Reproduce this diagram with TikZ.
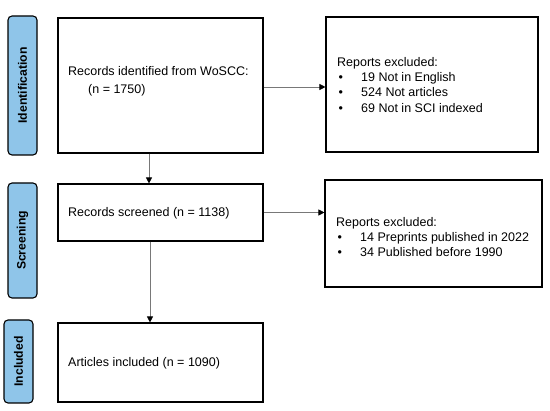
\documentclass[tikz,border=0pt]{standalone}
\usepackage{fontspec}
\setmainfont{Liberation Sans}
\usetikzlibrary{arrows.meta}
\definecolor{phaseblue}{RGB}{143,197,233}
\definecolor{linegray}{RGB}{120,120,120}
\tikzset{phase/.style={draw=black,line width=1.1pt,fill=phaseblue,rounded corners=4pt,minimum width=29pt,inner sep=0pt}}
\tikzset{stagebox/.style={draw=black,line width=1.1pt,fill=white,inner sep=0pt}}
\tikzset{txt/.style={inner sep=0pt,font=\fontsize{12.5}{15.3}\selectfont,align=left}}
\tikzset{flow/.style={draw=linegray,line width=0.8pt,-{Triangle[length=6pt,width=6pt,black]}}}
\newcommand{\bul}{\makebox[24pt][l]{\hspace{1.5pt}•}}

\begin{document}
\begin{tikzpicture}[x=1pt,y=-1pt]
      \useasboundingbox[fill=white] (0,0) rectangle (550,411);
      \pgfmathsetmacro{\boxw}{205}
      \pgfmathsetmacro{\boxx}{160.5}
      % phase labels
      \node[phase,minimum height=139pt] (ident) at (22.5,85.5) {\rotatebox{90}{\fontsize{12.2}{14}\selectfont\bfseries Identification}};
      \node[phase,minimum height=115pt] (screen) at (22.5,240.5) {\rotatebox{90}{\fontsize{12.2}{14}\selectfont\bfseries Screening}};
      \node[phase,minimum height=83pt] (incl) at (18.5,361.5) {\rotatebox{90}{\fontsize{12.2}{14}\selectfont\bfseries Included}};
      % main boxes
      \node[stagebox,minimum width=\boxw pt,minimum height=135pt] (rec) at (\boxx,85.5) {};
      \node[stagebox,minimum width=\boxw pt,minimum height=57pt] (scr) at (\boxx,212.5) {};
      \node[stagebox,minimum width=\boxw pt,minimum height=79pt] (inc) at (\boxx,362.5) {};
      \node[stagebox,minimum width=212pt,minimum height=135pt] (exa) at (432,84.5) {};
      \node[stagebox,minimum width=217pt,minimum height=107pt] (exb) at (433.5,233.5) {};
      % texts
      \node[txt,anchor=north west,font=\fontsize{12.5}{18}\selectfont] (rectxt) at (68,66) {Records identified from WoSCC:\\\hspace{20pt}(n = 1750)};
      \node[txt,anchor=west] (scrtxt) at (68,213) {Records screened (n = 1138)};
      \node[txt,anchor=west] (inctxt) at (68,363) {Articles included (n = 1090)};
      \node[txt,anchor=north west] (exatxt) at (337,57) {Reports excluded:\\\bul 19 Not in English\\\bul 524 Not articles\\\bul 69 Not in SCI indexed};
      \node[txt,anchor=north west] (exbtxt) at (336,217) {Reports excluded:\\\bul 14 Preprints published in 2022\\\bul 34 Published before 1990};
      % connectors
      \draw[flow] ([xshift=-11.5pt]rec.south) -- ([xshift=-11.5pt]scr.north);
      \draw[flow] ([xshift=-10.5pt]scr.south) -- ([xshift=-10.5pt]inc.north);
      \draw[flow] ([yshift=-1.5pt]rec.east) -- ([yshift=-1.5pt]rec.east -| exa.west);
      \draw[flow] (scr.east) -- (scr.east -| exb.west);
\end{tikzpicture}
\end{document}
